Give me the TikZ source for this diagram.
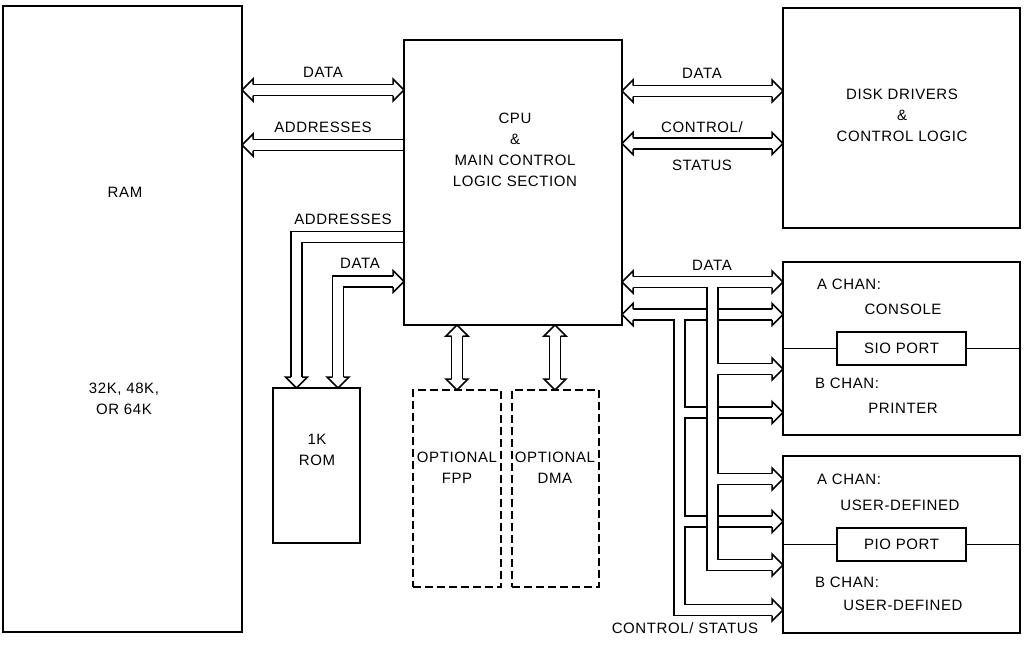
\documentclass[tikz,border=0pt]{standalone}
\usepackage{fontspec}
\setmainfont{Liberation Sans}[LetterSpace=4]
\usetikzlibrary{backgrounds}
\tikzset{
  box/.style={draw, line width=1.9pt, outer sep=0pt, inner sep=0pt},
  dbox/.style={box, dash pattern=on 8pt off 4pt},
  bus/.style={draw, line width=1.5pt, double=white, double distance=9.5pt, line join=miter},
  lbl/.style={font=\fontsize{15}{21}\selectfont, inner sep=0pt, align=center},
  bushead/.pic={
    \fill[white] (-11,-6.5) rectangle (-0.5,6.5);
    \filldraw[fill=white, draw=black, line width=1.5pt, line join=miter]
      (-11,5.5) -- (-11,11) -- (0,0) -- (-11,-11) -- (-11,-5.5);
  }
}
\begin{document}
\begin{tikzpicture}[x=1pt,y=-1pt]
\useasboundingbox (0,0) rectangle (1029,646);
% boxes
\node[box, minimum width=239, minimum height=626] (ram) at (122.5,319) {};
\node[box, minimum width=218, minimum height=285] (cpu) at (513,182.5) {};
\node[box, minimum width=237, minimum height=220] (disk) at (901.5,118) {};
\node[box, minimum width=237, minimum height=173] (sio) at (901.5,348.5) {};
\node[box, minimum width=237, minimum height=177] (pio) at (901.5,544.5) {};
\node[box, minimum width=87, minimum height=155] (rom) at (316.5,465.5) {};
\node[dbox, minimum width=88, minimum height=197] (fpp) at (457,488.5) {};
\node[dbox, minimum width=87, minimum height=197] (dma) at (555.5,488.5) {};
\node[box, lbl, line width=1.3pt, minimum width=129, minimum height=33] (sioport) at (901.5,348.5) {SIO PORT};
\node[box, lbl, line width=1.3pt, minimum width=129, minimum height=33] (pioport) at (901.5,544.5) {PIO PORT};
\draw[line width=1.3pt] (sio.west) -- (sioport.west) (sioport.east) -- (sio.east);
\draw[line width=1.3pt] (pio.west) -- (pioport.west) (pioport.east) -- (pio.east);
% box texts
\node[lbl] (ramt) at (125,192) {RAM};
\node[lbl] (ramsz) at (124,399) {32K, 48K,\\OR 64K};
\node[lbl] (cput) at (515,149.5) {CPU\\\&\\MAIN CONTROL\\LOGIC SECTION};
\node[lbl] (diskt) at (902,115) {DISK DRIVERS\\\&\\CONTROL LOGIC};
\node[lbl, anchor=west] (sioa) at (817,284) {A CHAN:};
\node[lbl] (siocon) at (903,309) {CONSOLE};
\node[lbl, anchor=west] (siob) at (815,383) {B CHAN:};
\node[lbl] (sioprn) at (903,408) {PRINTER};
\node[lbl, anchor=west] (pioa) at (817,479) {A CHAN:};
\node[lbl] (pioua) at (900,505) {USER-DEFINED};
\node[lbl, anchor=west] (piob) at (815,582) {B CHAN:};
\node[lbl] (pioub) at (903,605) {USER-DEFINED};
\node[lbl] (romt) at (317,449.5) {1K\\ROM};
\node[lbl] (fppt) at (457,468) {OPTIONAL\\FPP};
\node[lbl] (dmat) at (555,468) {OPTIONAL\\DMA};
% bus labels
\node[lbl] (l1) at (323,72) {DATA};
\node[lbl] (l2) at (323,127) {ADDRESSES};
\node[lbl] (l3) at (343,219) {ADDRESSES};
\node[lbl] (l4) at (360,263) {DATA};
\node[lbl] (l5) at (702,73) {DATA};
\node[lbl] (l6) at (702,127) {CONTROL/};
\node[lbl] (l7) at (702,165) {STATUS};
\node[lbl] (l8) at (712,265) {DATA};
\node[lbl] (l9) at (685,628) {CONTROL/ STATUS};
% buses
\begin{pgfonlayer}{background}
\draw[bus] (ram.east |- 0,90) -- (cpu.west |- 0,90);
\draw[bus] (ram.east |- 0,145) -- (cpu.west |- 0,145);
\draw[bus] (cpu.east |- 0,91) -- (disk.west |- 0,91);
\draw[bus] (cpu.east |- 0,143.5) -- (disk.west |- 0,143.5);
\draw[bus] (cpu.west |- 0,237) -| (rom.north -| 296.5,0);
\draw[bus] (cpu.west |- 0,281.5) -| (rom.north -| 338,0);
\draw[bus] (cpu.south -| fpp.north) -- (fpp.north);
\draw[bus] (cpu.south -| 555,0) -- (dma.north -| 555,0);
% control / status bus
\draw[bus] (cpu.east |- 0,314.5) -- (sio.west |- 0,314.5)
  (679.5,314.5) |- (pio.west |- 0,610)
  (679.5,412.5) -- (sio.west |- 0,412.5)
  (679.5,521.5) -- (pio.west |- 0,521.5);
% data bus
\draw[bus] (cpu.east |- 0,282) -- (sio.west |- 0,282)
  (712.5,282) |- (pio.west |- 0,565)
  (712.5,369) -- (sio.west |- 0,369)
  (712.5,479) -- (pio.west |- 0,479);
% heads
\pic[rotate=180] at (ram.east |- 0,90) {bushead};
\pic at (cpu.west |- 0,90) {bushead};
\pic[rotate=180] at (ram.east |- 0,145) {bushead};
\pic[rotate=180] at (cpu.east |- 0,91) {bushead};
\pic at (disk.west |- 0,91) {bushead};
\pic[rotate=180] at (cpu.east |- 0,143.5) {bushead};
\pic at (disk.west |- 0,143.5) {bushead};
\pic[rotate=-90] at (rom.north -| 296.5,0) {bushead};
\pic at (cpu.west |- 0,281.5) {bushead};
\pic[rotate=-90] at (rom.north -| 338,0) {bushead};
\pic[rotate=90] at (cpu.south -| fpp.north) {bushead};
\pic[rotate=-90] at (fpp.north) {bushead};
\pic[rotate=90] at (cpu.south -| 555,0) {bushead};
\pic[rotate=-90] at (dma.north -| 555,0) {bushead};
\pic[rotate=180] at (cpu.east |- 0,314.5) {bushead};
\pic at (sio.west |- 0,314.5) {bushead};
\pic at (sio.west |- 0,412.5) {bushead};
\pic at (pio.west |- 0,521.5) {bushead};
\pic at (pio.west |- 0,610) {bushead};
\pic[rotate=180] at (cpu.east |- 0,282) {bushead};
\pic at (sio.west |- 0,282) {bushead};
\pic at (sio.west |- 0,369) {bushead};
\pic at (pio.west |- 0,479) {bushead};
\pic at (pio.west |- 0,565) {bushead};
\end{pgfonlayer}
\end{tikzpicture}
\end{document}
